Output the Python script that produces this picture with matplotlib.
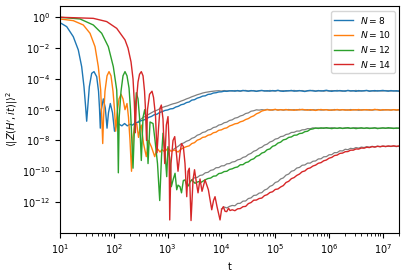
import matplotlib
matplotlib.use("Agg")
import matplotlib.pyplot as plt
import numpy as np

# all values are log10
# shared log10(t) grid for the late-time (ramp / plateau) part of every curve
tail_logt = [4.20, 4.25, 4.30, 4.35, 4.40, 4.45, 4.50, 4.55, 4.60, 4.65,
             4.70, 4.75, 4.80, 4.85, 4.90, 4.95, 5.00, 5.05, 5.10, 5.15,
             5.20, 5.25, 5.30, 5.35, 5.40, 5.45, 5.50, 5.55, 5.60, 5.65,
             5.70, 5.75, 5.80, 5.85, 5.90, 5.95, 6.00, 6.05, 6.10, 6.15,
             6.20, 6.25, 6.30, 6.35, 6.40, 6.45, 6.50, 6.55, 6.60, 6.65,
             6.70, 6.75, 6.80, 6.85, 6.90, 6.95, 7.00, 7.05, 7.10, 7.15,
             7.20, 7.25, 7.30]

# N = 8
n8_logt = [1.00, 1.125, 1.247, 1.34, 1.403, 1.446, 1.476, 1.496, 1.517, 1.545,
           1.589, 1.632, 1.682, 1.716, 1.734, 1.749, 1.768, 1.805, 1.842, 1.874,
           1.901, 1.935, 1.976, 2.013, 2.06, 2.10, 2.15, 2.20, 2.25, 2.30,
           2.35, 2.40, 2.45, 2.50, 2.55, 2.60, 2.65, 2.70, 2.75, 2.80,
           2.85, 2.90, 2.95, 3.00, 3.05, 3.10, 3.15, 3.20, 3.25, 3.30,
           3.35, 3.40, 3.45, 3.50, 3.55, 3.60, 3.65, 3.70, 3.75, 3.80,
           3.85, 3.90, 3.95, 4.00, 4.05, 4.10, 4.15]
n8_logy = [-0.35, -0.61, -1.26, -2.12, -3.21, -4.51, -5.8, -6.75, -5.8, -4.51,
           -3.64, -3.53, -3.86, -4.8, -5.9, -7.2, -6.0, -5.3, -5.9, -7.2,
           -6.2, -5.6, -6.2, -7.4, -6.85, -6.95, -7.05, -6.9, -7.05, -6.95,
           -7.0, -6.85, -6.82, -6.72, -6.68, -6.6, -6.5, -6.44, -6.33, -6.3,
           -6.18, -6.13, -6.05, -6.02, -5.95, -5.93, -5.83, -5.78, -5.68, -5.64,
           -5.54, -5.5, -5.38, -5.35, -5.25, -5.2, -5.12, -5.1, -5.01, -4.99,
           -4.92, -4.9, -4.85, -4.84, -4.8, -4.81, -4.78]
n8_tail = [-4.77, -4.8, -4.76, -4.79, -4.75, -4.78, -4.8, -4.76, -4.78, -4.81,
           -4.77, -4.75, -4.79, -4.77, -4.8, -4.76, -4.78, -4.74, -4.79, -4.81,
           -4.77, -4.78, -4.75, -4.8, -4.78, -4.76, -4.79, -4.82, -4.77, -4.75,
           -4.78, -4.8, -4.76, -4.79, -4.77, -4.74, -4.78, -4.81, -4.77, -4.79,
           -4.76, -4.78, -4.8, -4.75, -4.78, -4.77, -4.81, -4.76, -4.79, -4.77,
           -4.75, -4.8, -4.78, -4.76, -4.79, -4.77, -4.75, -4.78, -4.8, -4.76,
           -4.79, -4.77, -4.8]
gray8_logt = [2.45, 2.50, 2.55, 2.60, 2.65, 2.70, 2.75, 2.80, 2.85, 2.90,
              2.95, 3.00, 3.05, 3.10, 3.15, 3.20, 3.25, 3.30, 3.35, 3.40,
              3.45, 3.50, 3.55, 3.60, 3.65, 3.70, 3.75, 3.80, 3.85, 3.90,
              3.95, 4.00, 4.05, 4.10, 4.15]
gray8_logy = [-6.8, -6.62, -6.5, -6.4, -6.3, -6.2, -6.1, -6.04, -5.95, -5.86,
              -5.8, -5.75, -5.68, -5.62, -5.58, -5.52, -5.44, -5.38, -5.3, -5.24,
              -5.16, -5.1, -5.03, -4.98, -4.92, -4.88, -4.85, -4.82, -4.8, -4.78,
              -4.77, -4.79, -4.76, -4.78, -4.77]
gray8_tail = [-4.79, -4.76, -4.78, -4.8, -4.77, -4.75, -4.79, -4.78, -4.76, -4.8,
              -4.78, -4.76, -4.77, -4.8, -4.75, -4.78, -4.79, -4.76, -4.78, -4.77,
              -4.8, -4.76, -4.78, -4.75, -4.79, -4.77, -4.76, -4.8, -4.78, -4.77,
              -4.75, -4.79, -4.78, -4.76, -4.8, -4.77, -4.79, -4.76, -4.78, -4.75,
              -4.78, -4.8, -4.77, -4.76, -4.79, -4.78, -4.75, -4.8, -4.77, -4.78,
              -4.76, -4.79, -4.77, -4.8, -4.76, -4.78, -4.79, -4.76, -4.77, -4.79,
              -4.77, -4.8, -4.78]

# N = 10
n10_logt = [1.00, 1.247, 1.433, 1.558, 1.651, 1.712, 1.756, 1.777, 1.794, 1.81,
            1.836, 1.874, 1.911, 1.948, 1.985, 2.013, 2.035, 2.059, 2.097, 2.134,
            2.171, 2.208, 2.245, 2.273, 2.301, 2.329, 2.357, 2.388, 2.426, 2.459,
            2.487, 2.511, 2.552, 2.604, 2.645, 2.697, 2.76, 2.803, 2.859, 2.896,
            2.946, 3.007, 3.063, 3.132, 3.193, 3.255, 3.30, 3.35, 3.40, 3.45,
            3.50, 3.55, 3.60, 3.65, 3.70, 3.75, 3.80, 3.85, 3.90, 3.95,
            4.00, 4.05, 4.10, 4.15]
n10_logy = [-0.11, -0.22, -0.5, -1.04, -1.91, -3.21, -4.72, -6.5, -8.2, -6.5,
            -4.8, -3.8, -3.53, -3.8, -4.8, -6.0, -7.4, -6.3, -5.3, -5.0,
            -5.3, -6.0, -5.6, -6.5, -8.0, -10.0, -7.8, -7.0, -6.9, -7.8,
            -7.2, -7.0, -8.2, -9.05, -8.0, -8.4, -9.05, -8.5, -8.75, -8.6,
            -8.73, -8.5, -8.7, -8.62, -8.75, -8.55, -8.47, -8.4, -8.35, -8.2,
            -8.14, -7.98, -7.92, -7.8, -7.77, -7.66, -7.62, -7.5, -7.46, -7.34,
            -7.31, -7.22, -7.18, -7.06]
n10_tail = [-7.0, -6.92, -6.89, -6.79, -6.74, -6.64, -6.58, -6.47, -6.4, -6.27,
            -6.2, -6.09, -6.04, -6.0, -6.03, -6.01, -5.98, -6.03, -6.0, -6.02,
            -5.99, -6.03, -6.01, -6.04, -6.0, -6.02, -5.98, -6.01, -6.03, -6.0,
            -6.02, -6.05, -6.01, -5.99, -6.02, -6.0, -6.04, -6.01, -6.03, -5.99,
            -6.02, -6.0, -6.03, -6.01, -6.04, -6.0, -6.02, -5.99, -6.03, -6.01,
            -6.0, -6.03, -6.02, -5.98, -6.01, -6.04, -6.0, -6.02, -6.01, -6.03,
            -6.0, -6.02, -6.01]
gray10_logt = [3.10, 3.15, 3.20, 3.25, 3.30, 3.35, 3.40, 3.45, 3.50, 3.55,
               3.60, 3.65, 3.70, 3.75, 3.80, 3.85, 3.90, 3.95, 4.00, 4.05,
               4.10, 4.15]
gray10_logy = [-8.6, -8.48, -8.37, -8.22, -8.16, -8.05, -7.99, -7.86, -7.8, -7.66,
               -7.6, -7.48, -7.44, -7.32, -7.28, -7.16, -7.12, -7.0, -6.96, -6.85,
               -6.81, -6.7]
gray10_tail = [-6.66, -6.55, -6.51, -6.41, -6.36, -6.25, -6.21, -6.1, -6.07, -6.01,
               -6.03, -6.0, -6.02, -5.98, -6.01, -6.03, -5.99, -6.02, -6.0, -6.03,
               -6.01, -5.99, -6.02, -6.0, -6.03, -5.98, -6.01, -6.02, -6.0, -6.04,
               -6.0, -6.02, -5.99, -6.03, -6.01, -6.0, -6.02, -6.04, -5.99, -6.01,
               -6.03, -6.0, -6.01, -6.03, -5.99, -6.02, -6.0, -6.04, -6.01, -6.0,
               -6.02, -6.0, -6.03, -6.01, -5.99, -6.02, -6.03, -6.0, -6.01, -6.02,
               -6.0, -6.03, -6.01]

# N = 12
n12_logt = [1.00, 1.372, 1.619, 1.775, 1.898, 1.991, 2.054, 2.071, 2.084, 2.10,
            2.134, 2.171, 2.208, 2.245, 2.283, 2.31, 2.329, 2.357, 2.385, 2.418,
            2.45, 2.478, 2.511, 2.543, 2.574, 2.608, 2.636, 2.673, 2.729, 2.766,
            2.812, 2.853, 2.887, 2.914, 2.952, 2.983, 3.007, 3.045, 3.069, 3.106,
            3.138, 3.169, 3.193, 3.23, 3.258, 3.292, 3.323, 3.355, 3.385, 3.416,
            3.448, 3.509, 3.571, 3.621, 3.695, 3.75, 3.80, 3.85, 3.90, 3.95,
            4.00, 4.05, 4.10, 4.15]
n12_logy = [0.0, -0.11, -0.5, -1.04, -1.91, -3.21, -4.72, -6.5, -10.1, -6.5,
            -4.8, -3.8, -3.53, -3.8, -4.6, -6.0, -7.5, -9.8, -7.0, -4.9,
            -5.3, -6.5, -9.3, -6.5, -6.0, -6.8, -9.5, -6.8, -6.9, -8.0,
            -9.5, -11.9, -9.0, -7.53, -8.8, -10.35, -8.4, -9.3, -11.0, -10.5,
            -10.13, -11.2, -10.9, -11.0, -11.4, -10.6, -10.56, -10.9, -10.95, -10.7,
            -10.56, -10.78, -10.67, -10.72, -10.56, -10.47, -10.44, -10.32, -10.3, -10.15,
            -10.12, -10.02, -10.0, -9.88]
n12_tail = [-9.84, -9.76, -9.72, -9.58, -9.57, -9.44, -9.39, -9.25, -9.19, -9.03,
            -8.97, -8.82, -8.76, -8.6, -8.55, -8.38, -8.32, -8.17, -8.11, -7.96,
            -7.92, -7.8, -7.77, -7.66, -7.65, -7.55, -7.53, -7.43, -7.4, -7.28,
            -7.25, -7.19, -7.22, -7.18, -7.21, -7.17, -7.2, -7.23, -7.19, -7.21,
            -7.18, -7.22, -7.2, -7.17, -7.21, -7.19, -7.23, -7.2, -7.18, -7.21,
            -7.19, -7.22, -7.2, -7.18, -7.23, -7.2, -7.19, -7.21, -7.17, -7.2,
            -7.22, -7.19, -7.21]
gray12_logt = [3.45, 3.50, 3.55, 3.60, 3.65, 3.70, 3.75, 3.80, 3.85, 3.90,
               3.95, 4.00, 4.05, 4.10, 4.15]
gray12_logy = [-10.56, -10.42, -10.4, -10.27, -10.24, -10.1, -10.07, -9.94, -9.9, -9.77,
               -9.76, -9.65, -9.64, -9.52, -9.5]
gray12_tail = [-9.4, -9.37, -9.26, -9.22, -9.1, -9.05, -8.91, -8.84, -8.7, -8.64,
               -8.5, -8.44, -8.3, -8.24, -8.1, -8.04, -7.91, -7.87, -7.75, -7.72,
               -7.61, -7.58, -7.48, -7.47, -7.39, -7.39, -7.31, -7.3, -7.23, -7.24,
               -7.18, -7.21, -7.19, -7.22, -7.18, -7.2, -7.21, -7.17, -7.2, -7.22,
               -7.19, -7.21, -7.18, -7.2, -7.22, -7.19, -7.17, -7.21, -7.2, -7.22,
               -7.18, -7.2, -7.21, -7.19, -7.2, -7.22, -7.18, -7.2, -7.21, -7.19,
               -7.2, -7.22, -7.19]

# N = 14
n14_logt = [1.00, 1.619, 1.868, 2.054, 2.208, 2.264, 2.32, 2.357, 2.381, 2.40,
            2.418, 2.45, 2.478, 2.511, 2.543, 2.571, 2.589, 2.608, 2.626, 2.664,
            2.71, 2.738, 2.775, 2.803, 2.831, 2.859, 2.883, 2.914, 2.946, 2.976,
            3.007, 3.026, 3.039, 3.063, 3.10, 3.132, 3.169, 3.193, 3.23, 3.258,
            3.292, 3.323, 3.355, 3.379, 3.403, 3.435, 3.472, 3.50, 3.537, 3.565,
            3.602, 3.639, 3.695, 3.757, 3.82, 3.853, 3.881, 3.918, 3.974, 4.002,
            4.035, 4.067, 4.098, 4.132, 4.16]
n14_logy = [0.0, -0.07, -0.28, -0.72, -1.47, -2.0, -2.9, -4.0, -5.5, -7.5,
            -5.5, -4.2, -3.7, -3.53, -3.8, -4.8, -6.0, -8.0, -6.0, -5.0,
            -4.8, -5.2, -6.4, -8.8, -7.2, -5.9, -5.7, -6.6, -9.5, -7.0,
            -6.45, -8.0, -13.16, -9.5, -8.0, -7.75, -9.05, -10.0, -8.83, -8.2,
            -8.4, -9.5, -11.65, -10.0, -9.8, -13.2, -10.56, -9.9, -10.8, -11.4,
            -10.5, -11.3, -10.56, -11.2, -12.5, -11.9, -11.65, -12.3, -13.16, -12.5,
            -12.3, -12.6, -12.62, -12.4, -12.55]
n14_tail = [-12.5, -12.56, -12.44, -12.42, -12.3, -12.28, -12.1, -12.03, -11.88, -11.87,
            -11.77, -11.74, -11.58, -11.52, -11.38, -11.33, -11.18, -11.15, -11.02, -10.93,
            -10.73, -10.65, -10.48, -10.41, -10.27, -10.18, -10.03, -9.98, -9.83, -9.78,
            -9.66, -9.6, -9.48, -9.44, -9.32, -9.27, -9.15, -9.1, -8.98, -8.95,
            -8.84, -8.82, -8.73, -8.72, -8.63, -8.63, -8.55, -8.56, -8.49, -8.5,
            -8.44, -8.46, -8.4, -8.43, -8.38, -8.4, -8.37, -8.39, -8.36, -8.38,
            -8.35, -8.38, -8.36]
gray14_logt = [4.00, 4.05, 4.10, 4.15]
gray14_logy = [-12.45, -12.32, -12.38, -12.28]
gray14_tail = [-12.22, -12.24, -12.09, -12.08, -11.94, -11.93, -11.77, -11.73, -11.57, -11.55,
               -11.42, -11.39, -11.22, -11.15, -10.98, -10.91, -10.73, -10.67, -10.5, -10.43,
               -10.25, -10.18, -10.0, -9.95, -9.79, -9.75, -9.61, -9.59, -9.47, -9.47,
               -9.35, -9.33, -9.2, -9.19, -9.06, -9.05, -8.93, -8.92, -8.79, -8.79,
               -8.67, -8.68, -8.57, -8.6, -8.51, -8.54, -8.46, -8.5, -8.43, -8.46,
               -8.4, -8.44, -8.38, -8.42, -8.37, -8.41, -8.36, -8.4, -8.37, -8.39,
               -8.36, -8.4, -8.37]

labels = ["$N = 8$", "$N = 10$", "$N = 12$", "$N = 14$"]
colors = ["#1f77b4", "#ff7f0e", "#2ca02c", "#d62728"]


def curve(logt, logy, tail):
    t = np.power(10.0, np.array(logt + tail_logt))
    y = np.power(10.0, np.array(logy + tail))
    return t, y


series = [
    (n8_logt, n8_logy, n8_tail, gray8_logt, gray8_logy, gray8_tail),
    (n10_logt, n10_logy, n10_tail, gray10_logt, gray10_logy, gray10_tail),
    (n12_logt, n12_logy, n12_tail, gray12_logt, gray12_logy, gray12_tail),
    (n14_logt, n14_logy, n14_tail, gray14_logt, gray14_logy, gray14_tail),
]

plt.rcParams["font.size"] = 7
fig = plt.figure(figsize=(4.07, 2.72), dpi=100)
ax = fig.add_axes([0.1474, 0.145, 0.834, 0.832])

for s in series:
    t, y = curve(s[3], s[4], s[5])
    ax.plot(t, y, color="grey", linewidth=0.9, zorder=1)

for s, lab, col in zip(series, labels, colors):
    t, y = curve(s[0], s[1], s[2])
    ax.plot(t, y, color=col, linewidth=1.0, label=lab, zorder=2)

ax.set_xscale("log")
ax.set_yscale("log")
ax.set_xlim(10, 2.03e7)
ax.set_ylim(10 ** -13.98, 10 ** 0.715)
ax.set_yticks([1e0, 1e-2, 1e-4, 1e-6, 1e-8, 1e-10, 1e-12])
ax.yaxis.set_minor_locator(matplotlib.ticker.NullLocator())
ax.set_xlabel("t")
ax.set_ylabel(r"$\langle|Z(H^{\prime},it)|\rangle^2$")
ax.yaxis.set_label_coords(-0.118, 0.5)
ax.legend(loc="upper right", fontsize=6.6, labelspacing=0.4,
          borderaxespad=0.5)

plt.savefig("out.png", dpi=100)
plt.close()
